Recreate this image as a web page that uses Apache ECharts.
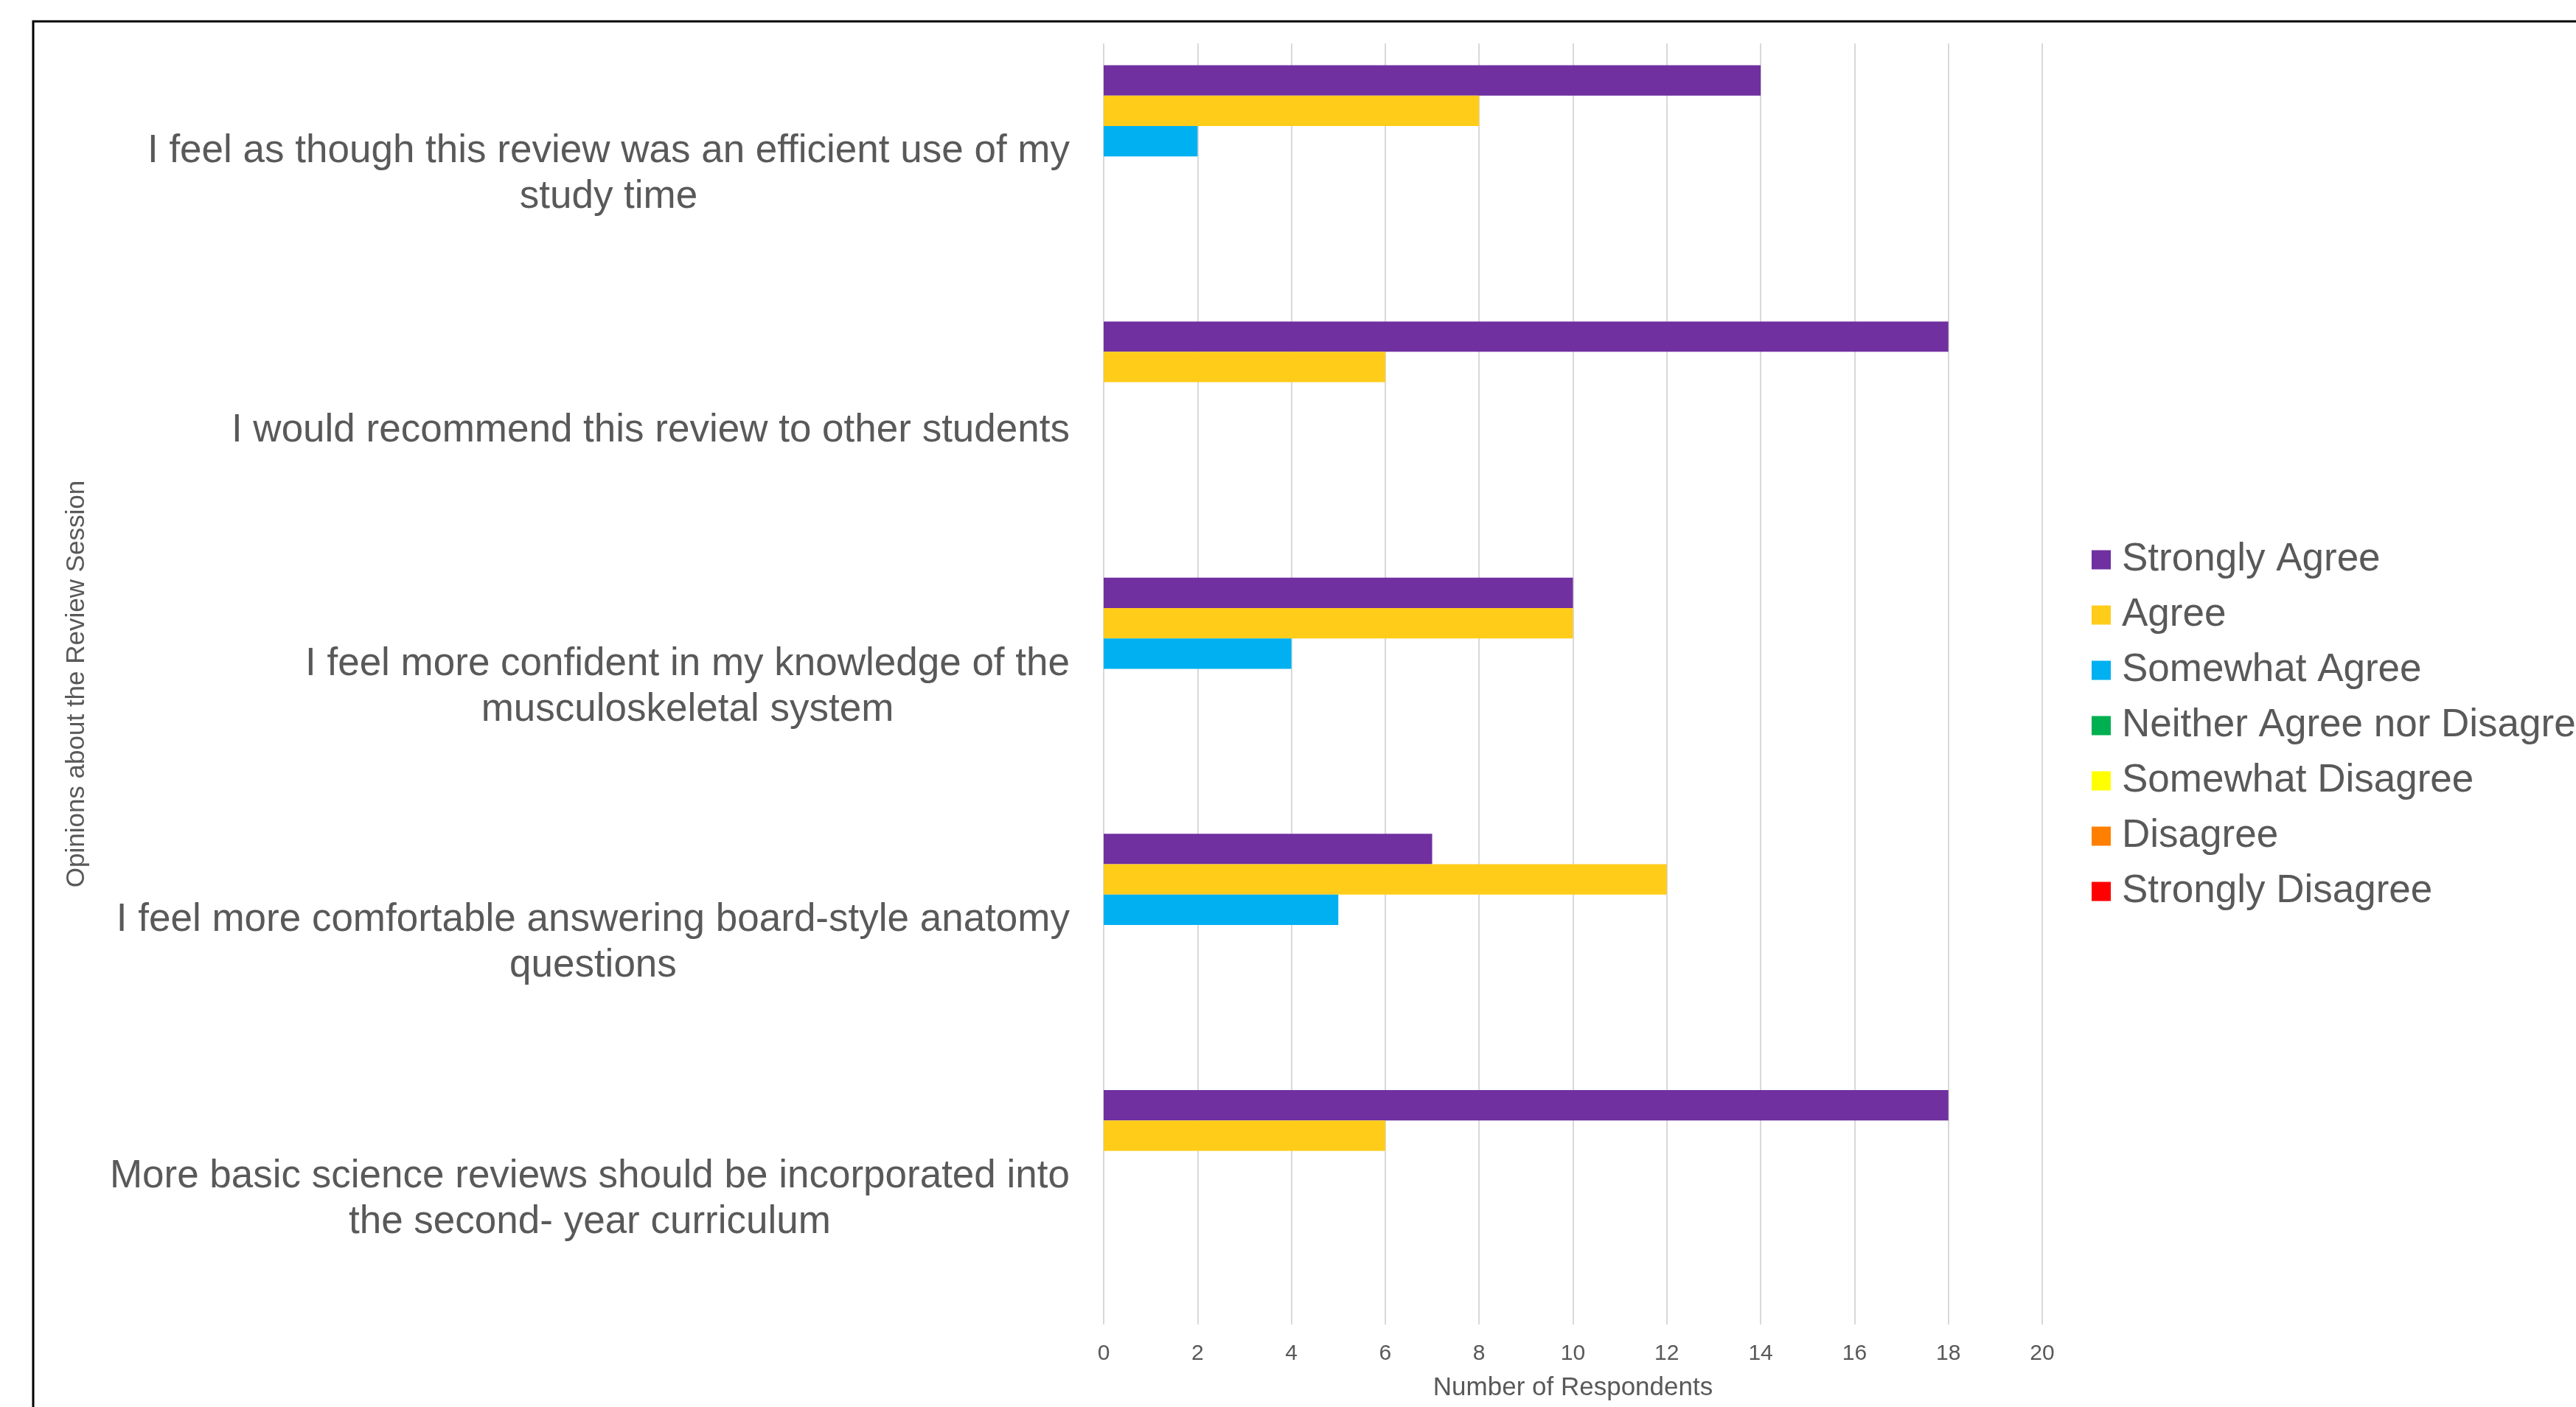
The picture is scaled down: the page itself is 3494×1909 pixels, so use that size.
<!DOCTYPE html>
<html>
<head>
<meta charset="utf-8">
<title>Opinions about the Review Session</title>
<script src="https://cdn.jsdelivr.net/npm/echarts@6/dist/echarts.min.js"></script>
<style>
  html, body { margin: 0; padding: 0; background: #fff; }
  #chart { width: 3494px; height: 1909px; }
</style>
</head>
<body>
<div id="chart"></div>
<script>
// categories, top to bottom
var questions = [
  'I feel as though this review was an efficient use of my\nstudy time',
  'I would recommend this review to other students',
  'I feel more confident in my knowledge of the\nmusculoskeletal system',
  'I feel more comfortable answering board-style anatomy\nquestions',
  'More basic science reviews should be incorporated into\nthe second- year curriculum'
]

var responseNames = ['Strongly Agree', 'Agree', 'Somewhat Agree', 'Neither Agree nor Disagree',
  'Somewhat Disagree', 'Disagree', 'Strongly Disagree']
var responseColors = ['#7030A0', '#FFCC1A', '#00B0F0', '#00B050', '#FFFF00', '#FF8000', '#FF0000']

var stronglyAgree = [14, 18, 10, 7, 18]
var agree = [8, 6, 10, 12, 6]
var somewhatAgree = [2, 0, 4, 5, 0]
var neitherAgree = [0, 0, 0, 0, 0]
var somewhatDisagree = [0, 0, 0, 0, 0]
var disagree = [0, 0, 0, 0, 0]
var stronglyDisagree = [0, 0, 0, 0, 0]

var xTicks = [0, 2, 4, 6, 8, 10, 12, 14, 16, 18, 20]

var responseValues = [stronglyAgree, agree, somewhatAgree, neitherAgree,
  somewhatDisagree, disagree, stronglyDisagree]

var font = '"Liberation Sans", Arial, sans-serif'
var textColor = '#595959'

var chart = echarts.init(document.getElementById('chart'))

var option = {
  backgroundColor: '#fff',
  animation: false,
  textStyle: { fontFamily: font },
  graphic: [{
    // chart area frame, cropped by the picture edge
    type: 'rect',
    z: -10,
    shape: { x: 45, y: 29, width: 5000, height: 5000 },
    style: { fill: 'none', stroke: '#000', lineWidth: 3 }
  }],
  grid: {
    left: 1497,
    right: 724,
    top: 59,
    bottom: 112,
    containLabel: false
  },
  legend: {
    orient: 'vertical',
    left: 2837,
    top: 733,
    padding: 0,
    icon: 'rect',
    itemWidth: 26,
    itemHeight: 26,
    itemGap: 22,
    data: responseNames,
    textStyle: {
      fontFamily: font,
      fontSize: 53,
      lineHeight: 53,
      color: textColor,
      padding: [0, 0, 0, 10]
    }
  },
  xAxis: {
    type: 'value',
    min: xTicks[0],
    max: xTicks[xTicks.length - 1],
    interval: xTicks[1] - xTicks[0],
    name: 'Number of Respondents',
    nameLocation: 'middle',
    nameGap: 69,
    nameTextStyle: { fontFamily: font, fontSize: 35, color: textColor },
    axisLine: { show: false },
    axisTick: { show: false },
    axisLabel: { fontFamily: font, fontSize: 30, color: textColor, margin: 25 },
    splitLine: { show: true, lineStyle: { color: '#d9d9d9', width: 2 } }
  },
  yAxis: {
    type: 'category',
    inverse: true,
    data: questions,
    name: 'Opinions about the Review Session',
    nameLocation: 'middle',
    nameRotate: 90,
    nameGap: 1375,
    nameTextStyle: { fontFamily: font, fontSize: 35, color: textColor },
    axisLine: { show: false },
    axisTick: { show: false },
    axisLabel: {
      margin: 46,
      align: 'right',
      padding: [8, 0, 0, 0],
      formatter: function (v) {
        return v.split('\n').map(function (s) { return '{c|' + s + '}' }).join('\n')
      },
      rich: {
        c: { fontFamily: font, fontSize: 53, lineHeight: 62, color: textColor, align: 'center' }
      }
    },
    splitLine: { show: false }
  },
  series: responseNames.map(function (name, i) {
    return {
      name: name,
      type: 'bar',
      data: responseValues[i],
      barGap: '0%',
      barCategoryGap: '17%',
      itemStyle: { color: responseColors[i] }
    }
  })
}

chart.setOption(option)
</script>
</body>
</html>
